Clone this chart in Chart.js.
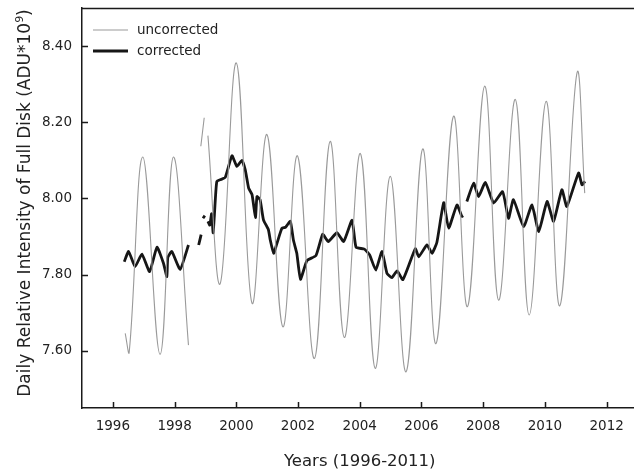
<!DOCTYPE html>
<html>
<head>
<meta charset="utf-8">
<script src="https://cdn.jsdelivr.net/npm/chart.js@4.4.1/dist/chart.umd.min.js"></script>
<style>
  html, body { margin: 0; padding: 0; background: #fff; overflow: hidden; }
  canvas { display: block; }
</style>
</head>
<body>
<canvas id="chart" width="640" height="472"></canvas>
<script>
// values (decimal years)
var uncorrYears = [1996.40, 1996.53, 1996.97, 1997.53, 1997.96, 1998.45, 1998.60, 1998.85, 1998.96, 1999.02,
    1999.08, 1999.48, 2000.00, 2000.51, 2000.99, 2001.51, 2001.98, 2002.53, 2003.04, 2003.50,
    2004.02, 2004.50, 2004.99, 2005.50, 2006.04, 2006.47, 2007.04, 2007.49, 2008.05, 2008.50,
    2009.04, 2009.49, 2010.04, 2010.48, 2011.04, 2011.29];
var uncorrValues = [7.646, 7.597, 8.109, 7.591, 8.109, 7.615, null, 8.137, 8.212, null,
    8.165, 7.777, 8.356, 7.725, 8.168, 7.663, 8.112, 7.580, 8.150, 7.635,
    8.118, 7.554, 8.058, 7.545, 8.130, 7.619, 8.216, 7.716, 8.295, 7.733,
    8.260, 7.694, 8.255, 7.718, 8.330, 8.014];

var corrYears = [1996.37, 1996.51, 1996.72, 1996.94, 1997.19, 1997.43, 1997.64, 1997.75, 1997.78, 1997.91,
    1998.18, 1998.45, 1998.60, 1998.78, 1998.86, 1998.89, 1998.92, 1998.98, 1999.03, 1999.08,
    1999.14, 1999.20, 1999.25, 1999.32, 1999.37, 1999.50, 1999.64, 1999.86, 2000.02, 2000.18,
    2000.29, 2000.40, 2000.51, 2000.62, 2000.67, 2000.77, 2000.88, 2001.04, 2001.10, 2001.21,
    2001.32, 2001.48, 2001.60, 2001.75, 2001.85, 2001.96, 2002.08, 2002.29, 2002.58, 2002.80,
    2002.98, 2003.26, 2003.48, 2003.75, 2003.88, 2004.15, 2004.32, 2004.52, 2004.72, 2004.88,
    2005.04, 2005.21, 2005.40, 2005.80, 2005.91, 2006.18, 2006.34, 2006.50, 2006.72, 2006.88,
    2007.15, 2007.31, 2007.35, 2007.41, 2007.47, 2007.69, 2007.85, 2008.07, 2008.34, 2008.63,
    2008.82, 2008.98, 2009.31, 2009.58, 2009.80, 2010.07, 2010.28, 2010.55, 2010.71, 2011.09,
    2011.20, 2011.30];
var corrValues = [7.834, 7.861, 7.821, 7.854, 7.808, 7.872, 7.830, 7.795, 7.845, 7.861,
    7.814, 7.878, null, 7.878, 7.905, null, 7.948, 7.955, null, 7.940,
    7.930, 7.960, 7.910, 7.997, 8.045, 8.050, 8.055, 8.112, 8.084, 8.100,
    8.075, 8.027, 8.010, 7.950, 8.005, 7.997, 7.944, 7.918, 7.891, 7.856,
    7.883, 7.922, 7.925, 7.940, 7.891, 7.856, 7.788, 7.837, 7.850, 7.906,
    7.887, 7.910, 7.887, 7.943, 7.872, 7.867, 7.852, 7.812, 7.861, 7.804,
    7.792, 7.810, 7.787, 7.868, 7.847, 7.878, 7.856, 7.885, 7.989, 7.922,
    7.983, 7.953, 7.955, null, 7.992, 8.040, 8.005, 8.042, 7.988, 8.018,
    7.948, 7.997, 7.926, 7.983, 7.913, 7.992, 7.940, 8.023, 7.979, 8.067,
    8.036, 8.045];

var xTicks = [1996, 1998, 2000, 2002, 2004, 2006, 2008, 2010, 2012];
var yTicks = [7.60, 7.80, 8.00, 8.20, 8.40];

var seriesNames = ["uncorrected", "corrected"];
var seriesColors = ["#9a9a9a", "#161616"];

var tickFont = { family: "DejaVu Sans", size: 13.5 };

function pairs(xs, ys) {
    return xs.map(function (x, i) { return { x: x, y: ys[i] }; });
}

// inward tick marks, top frame line, axis titles and legend
var decorations = {
    id: "decorations",
    afterDraw: function (chart) {
        var ctx = chart.ctx, area = chart.chartArea;
        var xs = chart.scales.x, ys = chart.scales.y;
        ctx.save();
        ctx.strokeStyle = "#1a1a1a";
        ctx.lineWidth = 1.5;
        ctx.beginPath();
        ctx.moveTo(area.left, area.top + 0.5);
        ctx.lineTo(area.right + 5, area.top + 0.5);
        xTicks.forEach(function (v) {
            var px = Math.round(xs.getPixelForValue(v)) + 0.5;
            ctx.moveTo(px, area.bottom);
            ctx.lineTo(px, area.bottom - 6);
        });
        yTicks.forEach(function (v) {
            var py = Math.round(ys.getPixelForValue(v)) + 0.5;
            ctx.moveTo(area.left, py);
            ctx.lineTo(area.left + 6, py);
        });
        ctx.stroke();

        // axis titles
        ctx.fillStyle = "#222";
        ctx.font = "16.5px 'DejaVu Sans'";
        ctx.textAlign = "center";
        ctx.textBaseline = "alphabetic";
        ctx.fillText("Years (1996-2011)", (area.left + area.right) / 2, 466);

        ctx.save();
        ctx.translate(29.5, 203);
        ctx.rotate(-Math.PI / 2);
        var main = "Daily Relative Intensity of Full Disk (ADU*10";
        ctx.font = "17px 'DejaVu Sans'";
        var w1 = ctx.measureText(main).width;
        var w3 = ctx.measureText(")").width;
        ctx.font = "11px 'DejaVu Sans'";
        var w2 = ctx.measureText("9").width;
        var start = -(w1 + w2 + w3) / 2;
        ctx.textAlign = "left";
        ctx.font = "17px 'DejaVu Sans'";
        ctx.fillText(main, start, 0);
        ctx.font = "11px 'DejaVu Sans'";
        ctx.fillText("9", start + w1, -7);
        ctx.font = "17px 'DejaVu Sans'";
        ctx.fillText(")", start + w1 + w2, 0);
        ctx.restore();

        // legend inside the plot, top left
        var rows = [30, 51];
        ctx.font = "13.5px 'DejaVu Sans'";
        ctx.textAlign = "left";
        ctx.textBaseline = "middle";
        chart.data.datasets.forEach(function (ds, i) {
            ctx.strokeStyle = ds.borderColor;
            ctx.lineWidth = ds.borderWidth;
            ctx.beginPath();
            ctx.moveTo(93, rows[i]);
            ctx.lineTo(128, rows[i]);
            ctx.stroke();
            ctx.fillStyle = "#222";
            ctx.fillText(ds.label, 137, rows[i] + 0.5);
        });
        ctx.restore();
    }
};

var chart = new Chart(document.getElementById("chart").getContext("2d"), {
    type: "line",
    data: {
        datasets: [
            {
                label: seriesNames[0],
                data: pairs(uncorrYears, uncorrValues),
                borderColor: seriesColors[0],
                borderWidth: 1.1,
                pointRadius: 0,
                tension: 0.4,
                spanGaps: false
            },
            {
                label: seriesNames[1],
                data: pairs(corrYears, corrValues),
                borderColor: seriesColors[1],
                borderWidth: 2.8,
                borderJoinStyle: "round",
                pointRadius: 0,
                tension: 0.15,
                spanGaps: false
            }
        ]
    },
    options: {
        responsive: false,
        animation: false,
        devicePixelRatio: 1,
        layout: { padding: { top: 8, right: 2.5, left: 0, bottom: 0 } },
        plugins: {
            legend: { display: false },
            tooltip: { enabled: false }
        },
        scales: {
            x: {
                type: "linear",
                min: 1995,
                max: 2013,
                grid: { display: false, drawTicks: false },
                border: { display: true, color: "#1a1a1a", width: 1.5 },
                ticks: {
                    font: tickFont,
                    color: "#222",
                    padding: 10,
                    maxRotation: 0,
                    callback: function (v) { return String(v); }
                },
                afterBuildTicks: function (axis) {
                    axis.ticks = xTicks.map(function (v) { return { value: v }; });
                },
                afterFit: function (scale) {
                    scale.height = 64;
                    scale.paddingLeft = 0;
                    scale.paddingRight = 0;
                }
            },
            y: {
                type: "linear",
                min: 7.45,
                max: 8.5,
                grid: { display: false, drawTicks: false },
                border: { display: true, color: "#1a1a1a", width: 1.5 },
                ticks: {
                    font: tickFont,
                    color: "#222",
                    padding: 10,
                    callback: function (v) { return v.toFixed(2); }
                },
                afterBuildTicks: function (axis) {
                    axis.ticks = yTicks.map(function (v) { return { value: v }; });
                },
                afterFit: function (scale) {
                    scale.width = 82;
                    scale.paddingTop = 0;
                    scale.paddingBottom = 0;
                }
            }
        }
    },
    plugins: [decorations]
});
</script>
</body>
</html>
